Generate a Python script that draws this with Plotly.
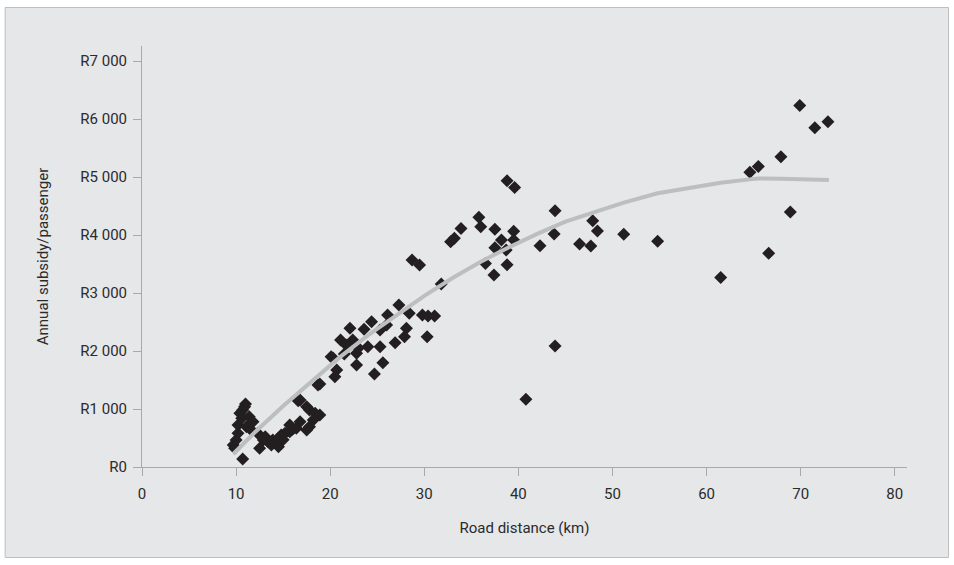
import plotly.graph_objects as go

# Scatter data: road distance (km) vs annual subsidy per passenger (R)
distance_km = [
    9.7, 9.85, 10.0, 10.2, 10.2, 10.4, 10.6, 10.7, 11.0, 10.9, 11.1, 11.4, 11.8, 10.7,
    11.6, 12.5, 12.3, 12.9, 13.1, 13.4, 13.75, 13.9, 14.2, 14.5, 14.5, 14.8, 15.0, 15.2,
    15.7, 15.7, 16.0, 16.4, 16.8, 17.5, 16.6, 16.8, 17.5, 17.8, 18.4, 18.9, 18.2, 17.8,
    18.7, 18.9,
    20.1, 20.7, 20.5, 21.1, 21.7, 22.4, 22.1, 22.8, 22.8, 23.6, 24.0, 24.4, 24.7, 25.3,
    25.6, 25.3, 26.0, 26.1, 26.9, 27.3, 27.9, 28.1, 28.4, 28.7, 29.5, 29.8, 30.4, 31.1,
    30.3, 21.5, 23.0, 20.3,
    31.8, 32.8, 33.2, 33.9, 35.8, 36.0, 36.5, 37.4, 37.5, 37.5, 38.2, 38.7, 38.8, 38.8,
    39.6, 39.5, 39.5, 40.8, 42.3, 43.8, 43.9, 43.9, 46.5, 47.7, 47.9, 48.4,
    51.2, 54.8, 61.5, 64.6, 65.5, 66.6, 67.9, 68.9, 69.9, 71.5, 72.9,
]
subsidy_r = [
    379, 322, 466, 581, 724, 926, 840, 983, 1086, 1040, 695, 867, 781, 138,
    640, 322, 581, 466, 520, 437, 379, 466, 430, 494, 350, 552, 470, 581,
    609, 724, 650, 667, 781, 638, 1143, 1155, 1040, 983, 926, 897, 810, 695,
    1414, 1431,
    1902, 1672, 1557, 2190, 2103, 2190, 2391, 1960, 1759, 2374, 2074, 2505, 1603, 2074,
    1798, 2362, 2448, 2621, 2143, 2793, 2247, 2391, 2650, 3569, 3483, 2621, 2603, 2603,
    2247, 1950, 2050, 1880,
    3155, 3885, 3943, 4115, 4305, 4143, 3511, 3310, 4098, 3781, 3914, 3741, 3488, 4936,
    4822, 4064, 3914, 1167, 3815, 4017, 4419, 2086, 3845, 3810, 4247, 4069,
    4012, 3891, 3270, 5081, 5184, 3684, 5350, 4397, 6236, 5850, 5953,
]

# Trend line
trend_x = [9.7, 12, 15, 18, 21, 24, 27, 30, 33, 36, 39, 42, 45, 48.4, 51.2, 54.8,
           61.5, 64.6, 65.5, 68, 73.0]
trend_y = [224, 600, 1050, 1480, 1890, 2270, 2620, 2950, 3260, 3540, 3790, 4020, 4230,
           4420, 4560, 4720, 4900, 4960, 4975, 4970, 4950]

x_ticks = [0, 10, 20, 30, 40, 50, 60, 70, 80]
y_ticks = [0, 1000, 2000, 3000, 4000, 5000, 6000, 7000]
y_tick_labels = ["R0", "R1 000", "R2 000", "R3 000", "R4 000", "R5 000", "R6 000", "R7 000"]

FONT = "Roboto, Liberation Sans, sans-serif"
BG = "#e6e7e8"
AXIS = "#a7a9ac"
TEXT = "#2b2b2b"

fig = go.Figure()
fig.add_trace(go.Scatter(
    x=distance_km, y=subsidy_r, mode="markers",
    marker=dict(symbol="diamond", size=10, color="#231f20", line=dict(width=0)),
    showlegend=False, hoverinfo="x+y",
))
fig.add_trace(go.Scatter(
    x=trend_x, y=trend_y, mode="lines",
    line=dict(color="#bcbec0", width=4),
    showlegend=False, hoverinfo="skip",
))

L, R, T, B = 142.3, 47, 46, 98
W, H = 954, 565
pw, ph = W - L - R, H - T - B

def px_x(p):
    return (p - L) / pw

def px_y(p):
    return (H - B - p) / ph

fig.add_shape(type="rect", xref="paper", yref="paper",
              x0=px_x(5.5), x1=px_x(948.5), y0=px_y(557.5), y1=px_y(7.5),
              fillcolor=BG, line=dict(color="#bcbec0", width=1), layer="below")

fig.update_layout(
    width=W, height=H,
    margin=dict(l=L, r=R, t=T, b=B),
    paper_bgcolor="white",
    plot_bgcolor="rgba(0,0,0,0)",
    font=dict(family=FONT, size=15, color=TEXT),
    xaxis=dict(
        range=[0, 81.3], tickvals=x_ticks, ticktext=[str(v) for v in x_ticks],
        showgrid=False, zeroline=False, showline=True, linecolor=AXIS, linewidth=1,
        ticks="outside", ticklen=8, tickcolor=AXIS, tickwidth=1,
        ticklabelstandoff=5,
        tickfont=dict(family=FONT, size=15, color=TEXT),
        title=dict(text="Road distance (km)", font=dict(family=FONT, size=15, color=TEXT),
                   standoff=20),
    ),
    yaxis=dict(
        range=[0, 7260], tickvals=y_ticks, ticktext=y_tick_labels,
        showgrid=False, zeroline=False, showline=True, linecolor=AXIS, linewidth=1,
        ticks="outside", ticklen=8, tickcolor=AXIS, tickwidth=1,
        ticklabelstandoff=3,
        tickfont=dict(family=FONT, size=15, color=TEXT),
        title=dict(text="Annual subsidy/passenger", font=dict(family=FONT, size=15, color=TEXT),
                   standoff=28),
    ),
)

fig.write_html("out.html", config={"displayModeBar": False},
               post_script="document.body.style.margin='0';")
